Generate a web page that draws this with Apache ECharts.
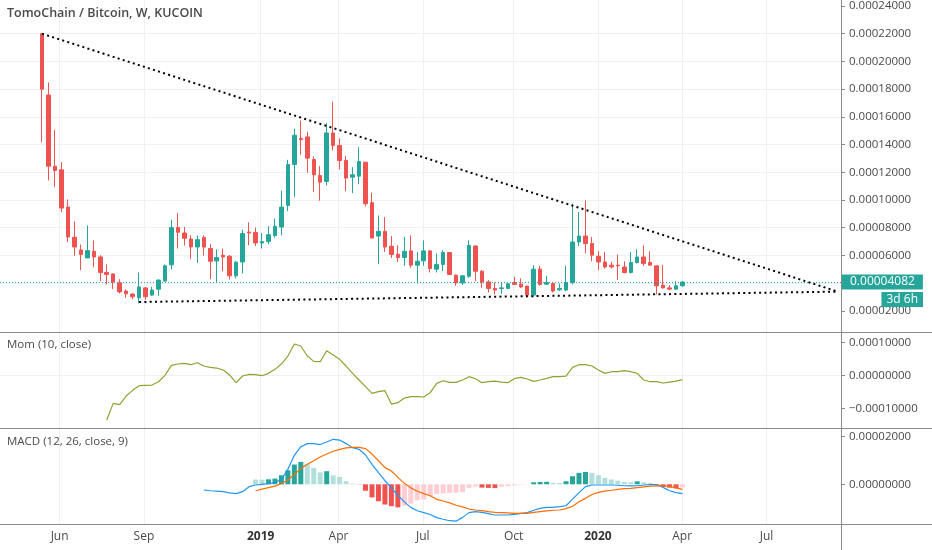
<!DOCTYPE html>
<html><head><meta charset="utf-8">
<script src="https://cdn.jsdelivr.net/npm/echarts@6/dist/echarts.min.js"></script>
<style>html,body{margin:0;padding:0;background:#fff}#c{width:932px;height:550px}</style>
</head><body><div id="c"></div>
<script>
// ---- data (prices in satoshi, 1e-8 BTC) ----
const firstCandle = '2018-05-14';   // weekly candles, Mondays
const leadWeeks = 6;                // empty weeks before first candle
const totalWeeks = 130;             // weeks on the time axis

const opens = [22000,17580,12440,12180,9490,7310,6400,5820,6300,5890,
 4770,4670,4020,3430,3210,2940,3660,3140,3570,4150,
 5320,8010,7620,7190,6610,7290,6500,5600,6020,5940,
 4530,5530,7690,7650,6900,7000,7430,8050,9610,12560,
 14450,14550,12920,11770,11340,14840,13930,12850,11650,11720,
 12730,9810,7400,7740,6660,6090,5850,6330,5300,5610,
 6330,5010,5350,6210,4580,4020,4500,6680,4860,4090,
 3620,3620,3620,4050,3930,3790,3140,5010,3930,3980,
 3520,3500,4050,6970,7400,6860,5940,5530,5300,5300,
 5170,4770,5490,5890,5490,5250,3860,3660,3570,3810];
const closes = [18000,12440,12130,9420,7330,6610,6070,6350,5890,4770,
 4630,4090,3370,3230,3020,3730,3020,3500,4220,5250,
 8010,7670,7240,6610,7140,6610,5580,5850,5890,4530,
 5510,7580,7620,6900,7000,7500,8100,9490,12560,14670,
 14360,13020,11820,11290,14840,13930,12850,11580,11820,12780,
 9730,7260,7740,6610,6070,5850,6300,5300,5580,6330,
 5060,5350,6210,4630,4020,4530,6730,4860,4090,3620,
 3500,3660,3950,3910,3730,3140,5010,3910,4050,3430,
 3620,4050,6970,7400,6860,6020,5530,5170,5170,5250,
 4770,5490,5890,5420,5300,3810,3660,3570,3810,4082];
const lows = [14170,11410,10930,9130,6970,5970,4940,5820,5170,4150,
 3910,3570,3260,2940,2850,2540,2780,3090,3090,4150,
 4990,6500,6710,5730,5460,5990,4290,4090,4860,4270,
 4340,4700,6730,6680,6500,6810,7290,7450,9200,10210,
 13260,11970,10570,9950,11050,13570,12200,10640,10500,11140,
 9540,7220,5370,6250,5820,5530,5250,5100,3980,5250,
 4770,4770,4860,4580,3810,3860,4380,4150,3660,3330,
 3190,3230,3570,3860,3660,2940,3020,3810,3860,3330,
 3430,3430,3910,6680,6140,5580,4940,5060,5060,4220,
 4700,4700,5420,5250,5250,3190,3620,3500,3520,3730];
const highs = [22000,18480,15060,12730,10040,8460,6790,8170,7090,6020,
 5350,4700,4290,3550,3280,4770,3730,3730,4290,5350,
 8580,9060,8050,7450,7450,7450,6810,6430,6500,6020,
 5610,7860,8390,8010,7620,8120,8660,10690,12900,15150,
 15730,14940,13160,12440,15560,17090,14450,13160,12370,13810,
 12730,10530,8890,8770,7400,6730,7330,7450,6250,7090,
 6380,6140,6380,6250,4630,4580,7090,6730,4940,4220,
 4050,4050,4050,4450,4340,3810,5300,5250,4530,4050,
 3980,5250,9730,9130,9970,7330,6300,6250,5530,6070,
 5580,6250,6450,6730,6300,5250,5300,3860,4150,4150];

// Mom (10, close) from candle 10
const momStart = 10;
const mom = [-13430,-8380,-8790,-6160,-4440,-3030,-2930,-2830,-1820,100,
 3130,3540,3740,3330,3940,2930,2530,2320,1720,200,
 -2120,-100,400,300,0,710,1920,3540,5960,9600,
 8990,5960,4340,4240,7580,6260,4950,2930,710,-1310,
 -3330,-5350,-4850,-4550,-8590,-8180,-6770,-6360,-6360,-6460,
 -5150,-2320,-1520,-2020,-2020,-1310,-300,-910,-2120,-1820,
 -1620,-1920,-2120,-910,-510,-1010,-1720,-1310,-810,-300,
 -300,-100,2530,3330,3330,2930,1720,710,1210,1210,
 1520,1210,710,-1310,-1820,-1820,-2220,-1920,-1620,-1210];

// MACD (12, 26, close, 9)
const macdStart = 25;
const macdLine = [-240,-270,-290,-310,-360,-390,-310,-100,
 -30,0,30,70,210,630,1220,1580,1710,1710,1670,1780,1890,1860,1710,1540,1470,
 1230,840,490,150,-150,-460,-740,-970,-1110,-1190,-1270,-1400,-1470,-1530,-1550,-1390,-1190,
 -1150,-1180,-1230,-1290,-1290,-1290,-1260,-1220,-1190,-1090,-1010,-970,-970,-940,-900,-620,-350,
 -100,-30,-30,-30,-30,-40,-60,-70,-60,-30,-10,-10,-130,-270,-350,-390];
const signalStart = 33;
const signalLine = [-270,-200,-140,-80,30,180,410,660,840,990,1150,1270,1390,1470,1530,1550,1550,
 1500,1270,990,700,560,290,40,-150,-290,-390,-480,-630,-700,-780,-880,-950,-1040,
 -1080,-1110,-1150,-1180,-1190,-1200,-1220,-1220,-1220,-1180,-1150,-1120,-1090,-1080,-1020,-920,-730,
 -590,-430,-340,-290,-250,-210,-180,-170,-140,-110,-80,-70,-60,-100,-150,-210];
const histStart = 33;
const histogram = [200,195,210,240,380,590,830,940,850,690,500,550,380,310,130,30,-10,
 -270,-550,-710,-850,-920,-970,-900,-810,-670,-640,-500,-400,-380,-360,-350,-330,-150,
 -90,-140,-150,-160,-100,-80,-40,-15,-5,85,95,105,60,50,130,340,480,520,480,
 380,270,200,150,100,85,125,85,55,-40,-110,-140,-170,-130];

// trend lines drawn on the chart: [week, price]
const trendTop = [['2018-05-14', 22000], ['2020-09-21', 3390]];
const trendBottom = [['2018-08-27', 2640], ['2020-09-21', 3390]];

// x-axis tick labels
const tickLabels = [['2018-06-04','Jun'],['2018-09-03','Sep'],['2019-01-07','2019'],
 ['2019-04-01','Apr'],['2019-07-01','Jul'],['2019-10-07','Oct'],['2020-01-06','2020'],
 ['2020-04-06','Apr'],['2020-07-06','Jul']];
const priceTicks = [2000,4000,6000,8000,10000,12000,14000,16000,18000,20000,22000,24000];
const momTicks = [-10000,0,10000];
const macdTicks = [0,2000];
const countdown = '3d 6h';

// ---- build ----
const DAY = 86400000;
const t0 = Date.parse(firstCandle + 'T00:00:00Z');
const categories = [];
for (let k = -leadWeeks; k < totalWeeks - leadWeeks; k++) {
  categories.push(new Date(t0 + k * 7 * DAY).toISOString().slice(0, 10));
}
function aligned(arr, start) {
  return categories.map((c, k) => {
    const i = k - leadWeeks - start;
    return (i >= 0 && i < arr.length) ? arr[i] : '-';
  });
}
const candleData = categories.map((c, k) => {
  const i = k - leadWeeks;
  return (i >= 0 && i < opens.length) ? [opens[i], closes[i], lows[i], highs[i]] : '-';
});
const histData = aligned(histogram, histStart).map((v, k, a) => {
  if (v === '-') return '-';
  const prev = a[k - 1];
  const rising = prev !== '-' && prev !== undefined && v > prev;
  const color = v >= 0 ? (rising ? '#26a69a' : '#b2dfdb') : (rising ? '#ffcdd2' : '#ef5350');
  return { value: v, itemStyle: { color } };
});
const tickMap = {};
tickLabels.forEach(t => tickMap[t[0]] = t[1]);

const FONT = '"Open Sans", "Liberation Sans", sans-serif';
const AXC = '#8a8a8a';
const TXT = '#4a4a4a';
const GRIDC = '#eef0f4';
const fmt = v => { const s = (Math.abs(v) / 1e8).toFixed(8); return v < 0 ? '\u2212' + s : s; };
const lastClose = closes[closes.length - 1];

function yAxisFor(idx, min, max, interval, ticks) {
  return {
    gridIndex: idx, type: 'value', position: 'right', min, max, interval,
    axisLine: { show: false },
    axisTick: { show: true, length: 4, lineStyle: { color: AXC }, customValues: ticks },
    axisLabel: { customValues: ticks, formatter: fmt, margin: 8, color: TXT, fontSize: 11.5,
                 fontFamily: FONT },
    splitLine: { show: true, showMinLine: false, showMaxLine: false, lineStyle: { color: GRIDC } }
  };
}
const hiddenX = i => ({ gridIndex: i, type: 'category', data: categories, show: false });

const chart = echarts.init(document.getElementById('c'), null, { renderer: 'canvas' });
chart.setOption({
  animation: false,
  backgroundColor: '#fff',
  textStyle: { fontFamily: FONT },
  grid: [
    { left: -2, top: 0, width: 843, height: 338.6 },
    { left: -2, top: 309.7, width: 843, height: 132 },
    { left: -2, top: 389.1, width: 843, height: 142.8 },
    { left: 1.2425, top: 0, width: 836.6, height: 524 }
  ],
  xAxis: [
    hiddenX(0), hiddenX(1), hiddenX(2),
    { gridIndex: 3, type: 'category', data: categories, boundaryGap: false,
      axisLine: { show: false }, axisTick: { show: false },
      axisLabel: {
        interval: (i, v) => tickMap[v] !== undefined,
        formatter: v => { const t = tickMap[v] || ''; return /^\d{4}$/.test(t) ? '{y|' + t + '}' : t; },
        margin: 7, color: TXT, fontSize: 12, fontFamily: FONT,
        rich: { y: { fontWeight: 'bold', fontSize: 12, color: '#333', fontFamily: FONT } }
      },
      splitLine: { show: true, interval: (i, v) => tickMap[v] !== undefined, lineStyle: { color: GRIDC } }
    }
  ],
  yAxis: [
    yAxisFor(0, 0, 24360, 2000, priceTicks),
    yAxisFor(1, -20000, 20000, 10000, momTicks),
    yAxisFor(2, -2000, 4000, 2000, macdTicks),
    { gridIndex: 3, type: 'value', show: false }
  ],
  series: [
    {
      type: 'candlestick', xAxisIndex: 0, yAxisIndex: 0, data: candleData, barWidth: 4,
      itemStyle: { color: '#26a69a', color0: '#ef5350', borderColor: '#26a69a', borderColor0: '#ef5350', borderWidth: 1 },
      markLine: {
        silent: true, animation: false, symbol: ['none', 'none'],
        data: [
          { yAxis: lastClose, lineStyle: { color: '#26a69a', type: [1, 2], width: 1 },
            label: { show: true, position: 'end', distance: 1, formatter: fmt(lastClose),
                     color: '#fff', backgroundColor: '#26a69a', padding: [2, 8, 1, 8],
                     fontSize: 12, fontFamily: FONT } },
          [ { coord: trendTop[0], lineStyle: { color: '#000', width: 2, type: [2, 3.3] }, label: { show: false } },
            { coord: trendTop[1] } ],
          [ { coord: trendBottom[0], lineStyle: { color: '#000', width: 2, type: [2, 3.3] }, label: { show: false } },
            { coord: trendBottom[1] } ]
        ]
      }
    },
    { type: 'line', xAxisIndex: 1, yAxisIndex: 1, data: aligned(mom, momStart), showSymbol: false,
      lineStyle: { color: '#93a031', width: 1.2 }, itemStyle: { color: '#93a031' } },
    { type: 'bar', xAxisIndex: 2, yAxisIndex: 2, data: histData, barWidth: 5 },
    { type: 'line', xAxisIndex: 2, yAxisIndex: 2, data: aligned(macdLine, macdStart), showSymbol: false,
      lineStyle: { color: '#2196f3', width: 1.2 }, itemStyle: { color: '#2196f3' } },
    { type: 'line', xAxisIndex: 2, yAxisIndex: 2, data: aligned(signalLine, signalStart), showSymbol: false,
      lineStyle: { color: '#ff6d00', width: 1.2 }, itemStyle: { color: '#ff6d00' } }
  ],
  graphic: [
    { type: 'line', shape: { x1: 841.5, y1: 0, x2: 841.5, y2: 550 }, style: { stroke: AXC, lineWidth: 1 }, z: 100 },
    { type: 'line', shape: { x1: 0, y1: 332.5, x2: 932, y2: 332.5 }, style: { stroke: AXC, lineWidth: 1 }, z: 100 },
    { type: 'line', shape: { x1: 0, y1: 428.5, x2: 932, y2: 428.5 }, style: { stroke: AXC, lineWidth: 1 }, z: 100 },
    { type: 'line', shape: { x1: 0, y1: 524.5, x2: 932, y2: 524.5 }, style: { stroke: AXC, lineWidth: 1 }, z: 100 },
    { type: 'text', left: 7, top: 7, z: 100,
      style: { text: 'TomoChain / Bitcoin, W, KUCOIN', fill: TXT, font: '600 12.5px ' + FONT } },
    { type: 'text', left: 7, top: 339, z: 100,
      style: { text: 'Mom (10, close)', fill: TXT, font: '11.5px ' + FONT } },
    { type: 'text', left: 7, top: 436, z: 100,
      style: { text: 'MACD (12, 26, close, 9)', fill: TXT, font: '11.5px ' + FONT } },
    { type: 'text', right: 9, top: 292, z: 100,
      style: { text: countdown, fill: '#fff', backgroundColor: '#26a69a', padding: [2, 5, 1, 5], font: '12px ' + FONT } }
  ]
});
</script>
</body></html>
